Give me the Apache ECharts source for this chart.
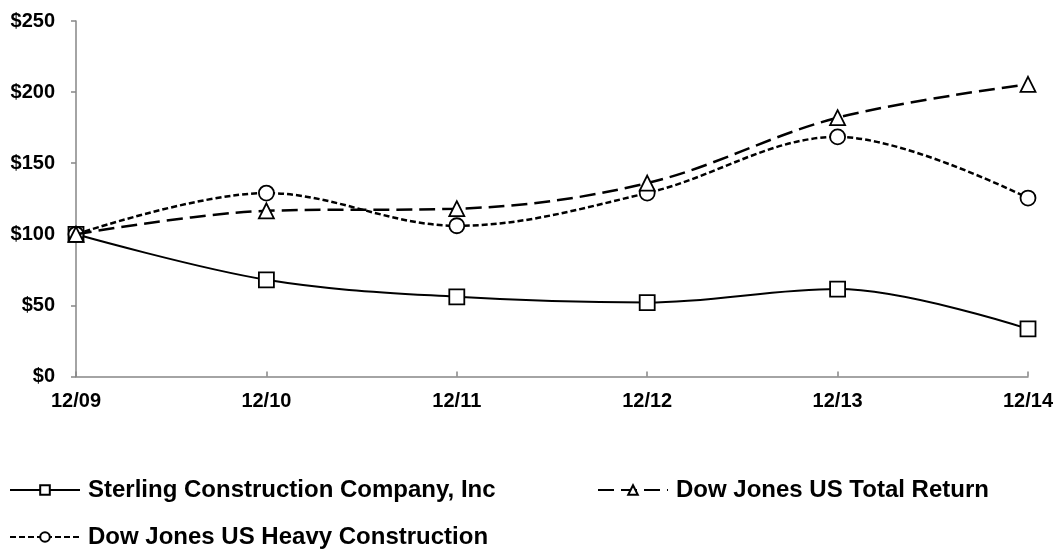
<!DOCTYPE html>
<html>
<head>
<meta charset="utf-8">
<script src="https://cdn.jsdelivr.net/npm/echarts@6/dist/echarts.min.js"></script>
<style>
html,body{margin:0;padding:0;background:#fff;}
#chart{width:1057px;height:549px;}
</style>
</head>
<body>
<div id="chart"></div>
<script>
const categories = ['12/09', '12/10', '12/11', '12/12', '12/13', '12/14'];
const sterling = [100, 68, 56, 52, 61.5, 33.5];
const djTotal = [100, 116.5, 118, 136, 182, 205.5];
const djHeavy = [100, 129, 106, 129, 168.5, 125.5];
const yTicks = [0, 50, 100, 150, 200, 250];
const names = ['Sterling Construction Company, Inc', 'Dow Jones US Total Return', 'Dow Jones US Heavy Construction'];

const FONT = "'Liberation Sans', Arial, sans-serif";
const chart = echarts.init(document.getElementById('chart'));

function mkSeries(name, data, symbol, dash, width, z) {
  return {
    name: name,
    type: 'line',
    data: data,
    smooth: 0.35,
    symbol: symbol,
    symbolSize: 15,
    z: z,
    lineStyle: { color: '#000', width: width, type: dash },
    itemStyle: { color: '#fff', borderColor: '#000', borderWidth: 1.8 },
    emphasis: { disabled: true }
  };
}

function mkLegend(name, left, top) {
  return {
    data: [name],
    left: left,
    top: top,
    itemWidth: 70,
    itemHeight: 12,
    padding: 0,
    textStyle: { fontFamily: FONT, fontWeight: 'bold', fontSize: 24, color: '#000', padding: [0, 0, 0, 3] },
    selectedMode: false
  };
}

chart.setOption({
  animation: false,
  backgroundColor: '#fff',
  grid: { left: 76, right: 29, top: 21, bottom: 172.5, containLabel: false },
  legend: [
    mkLegend(names[0], 9, 478),
    mkLegend(names[1], 597, 478),
    mkLegend(names[2], 9, 525)
  ],
  xAxis: {
    type: 'category',
    data: categories,
    boundaryGap: false,
    axisLine: { lineStyle: { color: '#868686', width: 1.5 } },
    axisTick: { show: true, inside: true, length: 5, alignWithLabel: true, lineStyle: { color: '#868686', width: 1.5 } },
    axisLabel: { fontFamily: FONT, fontWeight: 'bold', fontSize: 20, color: '#000', margin: 15 },
    splitLine: { show: false }
  },
  yAxis: {
    type: 'value',
    min: yTicks[0],
    max: yTicks[yTicks.length - 1],
    interval: 50,
    axisLine: { show: true, lineStyle: { color: '#868686', width: 1.5 } },
    axisTick: { show: true, length: 5, lineStyle: { color: '#868686', width: 1.5 } },
    axisLabel: { fontFamily: FONT, fontWeight: 'bold', fontSize: 20, color: '#000', margin: 21, formatter: v => '$' + v },
    splitLine: { show: false }
  },
  series: [
    mkSeries(names[0], sterling, 'rect', 'solid', 2, 2),
    mkSeries(names[1], djTotal, 'triangle', [16, 7], 2.5, 3),
    mkSeries(names[2], djHeavy, 'circle', [6, 3], 2.5, 2)
  ]
});
</script>
</body>
</html>
